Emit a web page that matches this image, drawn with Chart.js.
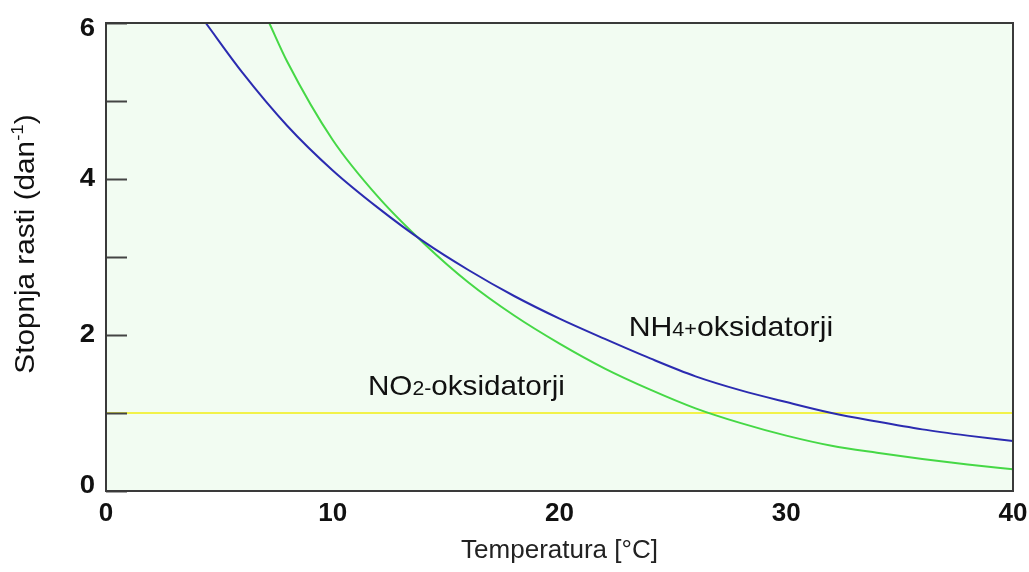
<!DOCTYPE html>
<html>
<head>
<meta charset="utf-8">
<script src="https://cdn.jsdelivr.net/npm/chart.js@4/dist/chart.umd.min.js"></script>
<style>
  body { margin: 0; background: #fff; }
  #wrap { width: 1029px; height: 572px; }
</style>
</head>
<body>
<div id="wrap"><canvas id="rateChart" width="1029" height="572"></canvas></div>
<script>
// values
const nh4Temp = [4.4, 6, 8, 10, 12, 14, 16, 18, 20, 22, 24, 26, 28, 30, 32, 34, 36, 38, 40];
const nh4Rate = [6.0, 5.37, 4.68, 4.11, 3.63, 3.20, 2.83, 2.50, 2.21, 1.95, 1.70, 1.47, 1.29, 1.14, 1.00, 0.89, 0.79, 0.71, 0.64];

const no2Temp = [7.2, 8, 10, 12, 14, 16, 18, 20, 22, 24, 26, 28, 30, 32, 34, 36, 38, 40];
const no2Rate = [6.0, 5.50, 4.50, 3.77, 3.18, 2.67, 2.25, 1.89, 1.57, 1.30, 1.06, 0.87, 0.71, 0.58, 0.49, 0.41, 0.34, 0.28];

const refTemp = [0, 40];
const refRate = [1.0, 1.0];

const xTicks = [0, 10, 20, 30, 40];
const yTicks = [0, 1, 2, 3, 4, 5, 6];
const yLabels = [0, 2, 4, 6];

const FONT = '"Liberation Sans", Arial, sans-serif';

function toPoints(xs, ys) {
    return xs.map((x, i) => ({ x: x, y: ys[i] }));
}

// draws a string made of parts with different sizes / vertical shifts
function drawParts(ctx, parts, x, y) {
    let cx = x;
    parts.forEach(p => {
        ctx.font = (p.weight || '') + ' ' + p.size + 'px ' + FONT;
        ctx.fillText(p.text, cx, y - (p.rise || 0));
        cx += ctx.measureText(p.text).width;
    });
}

function partsWidth(ctx, parts) {
    let w = 0;
    parts.forEach(p => {
        ctx.font = (p.weight || '') + ' ' + p.size + 'px ' + FONT;
        w += ctx.measureText(p.text).width;
    });
    return w;
}

// text in the original is a little wider than Liberation Sans
function drawStretched(ctx, parts, x, y, sx) {
    ctx.save();
    ctx.translate(x, y);
    ctx.scale(sx, 1);
    drawParts(ctx, parts, 0, 0);
    ctx.restore();
}

const plotDecor = {
    id: 'plotDecor',
    beforeDatasetsDraw(chart) {
        const { ctx, chartArea: a } = chart;
        ctx.save();
        ctx.fillStyle = '#f2fcf2';
        ctx.fillRect(a.left, a.top, a.right - a.left, a.bottom - a.top);
        ctx.restore();
    },
    afterDatasetsDraw(chart) {
        const { ctx, chartArea: a, scales } = chart;
        ctx.save();
        // inner tick marks on the y axis
        ctx.strokeStyle = '#444';
        ctx.lineWidth = 2;
        yTicks.forEach(v => {
            const py = Math.round(scales.y.getPixelForValue(v)) + 0.5;
            ctx.beginPath();
            ctx.moveTo(a.left, py);
            ctx.lineTo(a.left + 21, py);
            ctx.stroke();
        });
        // frame
        ctx.strokeStyle = '#3a3a3a';
        ctx.strokeRect(a.left, a.top, a.right - a.left, a.bottom - a.top);

        // y tick labels, end labels kept inside the frame height
        ctx.fillStyle = '#111';
        ctx.font = 'bold 26px ' + FONT;
        ctx.textAlign = 'right';
        ctx.textBaseline = 'middle';
        yLabels.forEach(v => {
            let py = scales.y.getPixelForValue(v);
            py = Math.min(Math.max(py, a.top + 6), a.bottom - 5);
            ctx.save();
            ctx.translate(a.left - 11, py);
            ctx.scale(1.06, 1);
            ctx.fillText(String(v), 0, 0);
            ctx.restore();
        });

        // curve labels
        ctx.textBaseline = 'alphabetic';
        ctx.textAlign = 'left';
        drawStretched(ctx, [
            { text: 'NH', size: 28 },
            { text: '4+', size: 20 },
            { text: 'oksidatorji', size: 28 }
        ], scales.x.getPixelForValue(23.05), scales.y.getPixelForValue(1.99), 1.08);
        drawStretched(ctx, [
            { text: 'NO', size: 28 },
            { text: '2-', size: 20 },
            { text: 'oksidatorji', size: 28 }
        ], scales.x.getPixelForValue(11.55), scales.y.getPixelForValue(1.23), 1.06);

        // y axis title with superscript
        const yParts = [
            { text: 'Stopnja rasti (dan', size: 27 },
            { text: '-1', size: 17, rise: 9 },
            { text: ')', size: 27 }
        ];
        ctx.translate(27, 244);
        ctx.rotate(-Math.PI / 2);
        ctx.scale(1.1, 1);
        ctx.textBaseline = 'middle';
        drawParts(ctx, yParts, -partsWidth(ctx, yParts) / 2, 0);
        ctx.restore();
    }
};

const ctx = document.getElementById('rateChart').getContext('2d');
new Chart(ctx, {
    type: 'line',
    data: {
        datasets: [
            {
                label: 'NH4+ oksidatorji',
                data: toPoints(nh4Temp, nh4Rate),
                borderColor: '#2b2bb0',
                borderWidth: 2,
                cubicInterpolationMode: 'monotone',
                pointRadius: 0,
                fill: false
            },
            {
                label: 'NO2- oksidatorji',
                data: toPoints(no2Temp, no2Rate),
                borderColor: '#46d846',
                borderWidth: 2,
                cubicInterpolationMode: 'monotone',
                pointRadius: 0,
                fill: false
            },
            {
                label: 'referenca',
                data: toPoints(refTemp, refRate),
                borderColor: '#f2f24a',
                borderWidth: 2,
                pointRadius: 0,
                fill: false
            }
        ]
    },
    options: {
        responsive: false,
        animation: false,
        devicePixelRatio: 1,
        layout: { padding: { top: 23, right: 16, left: 0, bottom: 0 } },
        plugins: {
            legend: { display: false },
            tooltip: { enabled: false }
        },
        scales: {
            x: {
                type: 'linear',
                min: 0,
                max: 40,
                afterBuildTicks: scale => {
                    scale.ticks = xTicks.map(v => ({ value: v }));
                },
                afterFit: scale => {
                    scale.height = 81;
                    scale.paddingLeft = 0;
                    scale.paddingRight = 0;
                },
                grid: { display: false, drawTicks: false },
                border: { display: false },
                ticks: {
                    color: '#111',
                    padding: 7,
                    maxRotation: 0,
                    font: { family: FONT, size: 26, weight: 'bold' }
                },
                title: {
                    display: true,
                    text: 'Temperatura [°C]',
                    color: '#222',
                    padding: { top: 0, bottom: 6 },
                    font: { family: FONT, size: 26 }
                }
            },
            y: {
                min: 0,
                max: 6,
                afterBuildTicks: scale => {
                    scale.ticks = yTicks.map(v => ({ value: v }));
                },
                afterFit: scale => {
                    scale.width = 106;
                    scale.paddingTop = 0;
                    scale.paddingBottom = 0;
                },
                grid: { display: false, drawTicks: false },
                border: { display: false },
                ticks: { display: false }
            }
        }
    },
    plugins: [plotDecor]
});
</script>
</body>
</html>
